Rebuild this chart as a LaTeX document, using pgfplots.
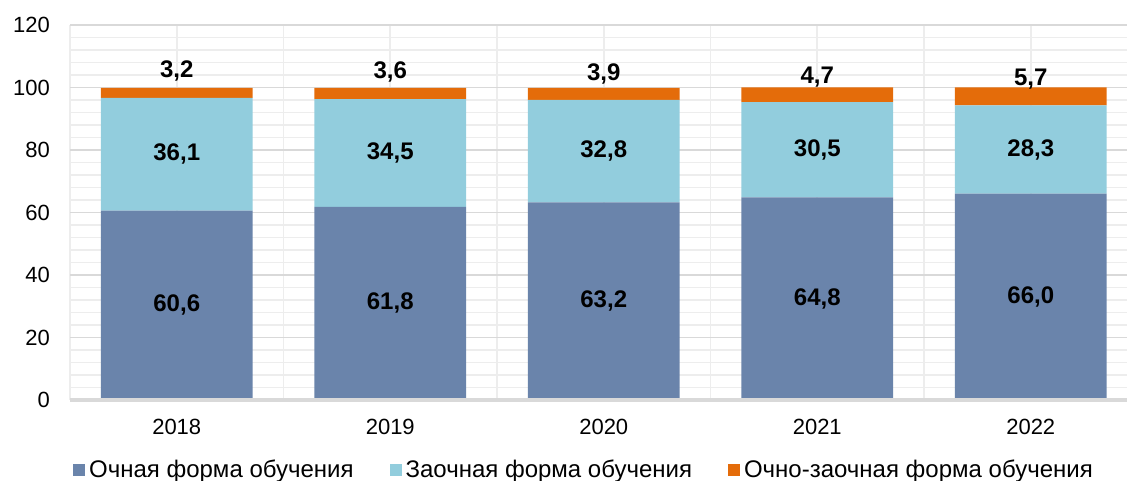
\documentclass[border=0pt]{standalone}
\usepackage{pgfplots}
\pgfplotsset{compat=1.18}
\usepackage{fontspec}
\setmainfont{Liberation Sans}
\definecolor{cA}{HTML}{6A84AB}
\definecolor{cB}{HTML}{92CDDD}
\definecolor{cC}{HTML}{E46C0A}
\definecolor{gmaj}{HTML}{D9D9D9}
\definecolor{gmin}{HTML}{EDEDED}
\tikzset{dl/.style={font=\bfseries\fontsize{12}{14}\selectfont}}
\begin{document}
\begin{tikzpicture}
\begin{axis}[
  scale only axis,
  x=106.75pt, y=1.5625pt,
  xmin=-0.5, xmax=4.5, ymin=0, ymax=120,
  ybar stacked, bar width=0.71,
  axis line style={draw=none},
  xtick={0,1,2,3,4},
  xticklabels={2018,2019,2020,2021,2022},
  minor xtick={-0.5,0.5,1.5,2.5,3.5,4.5},
  ytick={0,20,40,60,80,100,120},
  minor ytick={4,8,12,16,24,28,32,36,44,48,52,56,64,68,72,76,84,88,92,96,104,108,112,116},
  major tick length=0pt, minor tick length=0pt,
  xmajorgrids, xminorgrids, ymajorgrids, yminorgrids,
  x grid style={gmin, line width=0.8pt},
  minor x grid style={gmin, line width=0.8pt},
  y grid style={gmaj, line width=0.8pt},
  minor y grid style={gmin, line width=0.8pt},
  tick label style={font=\fontsize{11}{12}\selectfont},
  yticklabel style={xshift=-6.5pt},
  xticklabel style={yshift=-6pt},
  /pgf/number format/assume math mode=true,
  legend columns=3,
  legend style={draw=none, fill=none, at={(axis cs:1.912,-22.4)}, anchor=center,
    font=\fontsize{12}{14}\selectfont, /tikz/every even column/.append style={column sep=16pt},
    inner sep=0pt},
  legend image code/.code={\fill[#1] (0pt,-3pt) rectangle (6pt,3pt);},
]
\addplot[fill=cA, draw=none] coordinates {(0,60.6) (1,61.8) (2,63.2) (3,64.8) (4,66.0)};
\addplot[fill=cB, draw=none] coordinates {(0,36.1) (1,34.5) (2,32.8) (3,30.5) (4,28.3)};
\addplot[fill=cC, draw=none] coordinates {(0,3.2) (1,3.6) (2,3.9) (3,4.7) (4,5.7)};
\legend{Очная форма обучения, Заочная форма обучения, Очно-заочная форма обучения}
\coordinate (p0) at (axis cs:0,30.3);
\coordinate (p1) at (axis cs:1,30.9);
\coordinate (p2) at (axis cs:2,31.6);
\coordinate (p3) at (axis cs:3,32.4);
\coordinate (p4) at (axis cs:4,33.0);
\coordinate (q0) at (axis cs:0,78.65);
\coordinate (q1) at (axis cs:1,79.05);
\coordinate (q2) at (axis cs:2,79.6);
\coordinate (q3) at (axis cs:3,80.05);
\coordinate (q4) at (axis cs:4,80.15);
\coordinate (r0) at (axis cs:0,105.4);
\coordinate (r1) at (axis cs:1,105.0);
\coordinate (r2) at (axis cs:2,104.4);
\coordinate (r3) at (axis cs:3,103.2);
\coordinate (r4) at (axis cs:4,102.7);
\coordinate (bl) at (axis cs:-0.8279,-25.92);
\coordinate (tr) at (axis cs:4.4508,128);
\coordinate (a0) at (axis cs:-0.5,0);
\coordinate (a1) at (axis cs:4.5,0);
\end{axis}
\draw[gmaj, line width=2pt] (a0) -- (a1);
\node[dl] at (p0) {60,6};
\node[dl] at (p1) {61,8};
\node[dl] at (p2) {63,2};
\node[dl] at (p3) {64,8};
\node[dl] at (p4) {66,0};
\node[dl] at (q0) {36,1};
\node[dl] at (q1) {34,5};
\node[dl] at (q2) {32,8};
\node[dl] at (q3) {30,5};
\node[dl] at (q4) {28,3};
\node[dl] at (r0) {3,2};
\node[dl] at (r1) {3,6};
\node[dl] at (r2) {3,9};
\node[dl] at (r3) {4,7};
\node[dl] at (r4) {5,7};
\pgfresetboundingbox
\useasboundingbox (bl) rectangle (tr);
\end{tikzpicture}
\end{document}
